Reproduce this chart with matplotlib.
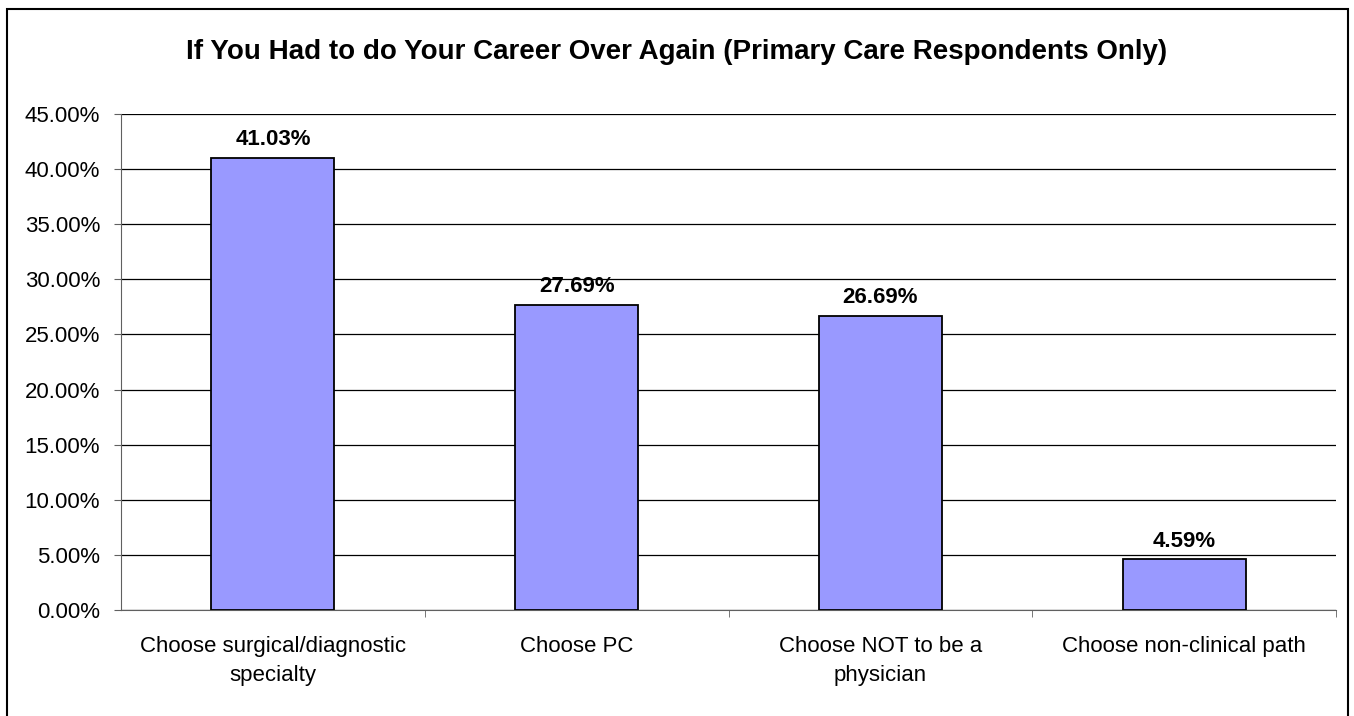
import matplotlib.pyplot as plt
from matplotlib.patches import Rectangle
from matplotlib.ticker import MultipleLocator, FuncFormatter

categories = ["Choose surgical/diagnostic\nspecialty", "Choose PC",
              "Choose NOT to be a\nphysician", "Choose non-clinical path"]
values = [41.03, 27.69, 26.69, 4.59]

plt.rcParams['font.family'] = ['Liberation Sans', 'DejaVu Sans']

fig = plt.figure(figsize=(13.54, 7.16), dpi=100)
ax = fig.add_axes([121 / 1354, 1 - 610 / 716, (1336 - 121) / 1354, (610 - 114) / 716])

x = list(range(len(categories)))
bars = ax.bar(x, values, width=0.405, color='#9999ff', edgecolor='black', linewidth=1.3, zorder=3)
for b, v in zip(bars, values):
    ax.annotate(f"{v:.2f}%", (b.get_x() + b.get_width() / 2, v), xytext=(0, 5.5),
                textcoords='offset points', ha='center', va='bottom',
                fontsize=16, fontweight='bold')

ax.set_xlim(-0.5, len(categories) - 0.5)
ax.set_ylim(0, 45)
ax.yaxis.set_major_locator(MultipleLocator(5))
ax.yaxis.set_major_formatter(FuncFormatter(lambda v, p: f"{v:.2f}%"))
ax.yaxis.grid(True, color='black', linewidth=0.9, zorder=0)
ax.set_xticks(x)
ax.set_xticklabels(categories, fontsize=16, linespacing=1.45)
ax.set_xticks([i + 0.5 for i in x[:-1]] + [len(categories) - 0.5], minor=True)
ax.tick_params(axis='x', which='major', length=0, pad=19)
ax.tick_params(axis='x', which='minor', length=5, direction='out', color='#606060')
ax.tick_params(axis='y', length=5, direction='out', color='#606060', labelsize=16, pad=10)
for s in ['top', 'right']:
    ax.spines[s].set_visible(False)
ax.spines['left'].set_color('#606060')
ax.spines['bottom'].set_color('#606060')

fig.text(0.5, 1 - 52 / 716, "If You Had to do Your Career Over Again (Primary Care Respondents Only)",
         ha='center', va='center', fontsize=20, fontweight='bold')

fig.patches.append(Rectangle((6.5 / 1354, -0.05), 1341 / 1354, 1.05 - 8.5 / 716, transform=fig.transFigure,
                             fill=False, edgecolor='black', linewidth=1.5))

fig.savefig("out.png", dpi=100)
